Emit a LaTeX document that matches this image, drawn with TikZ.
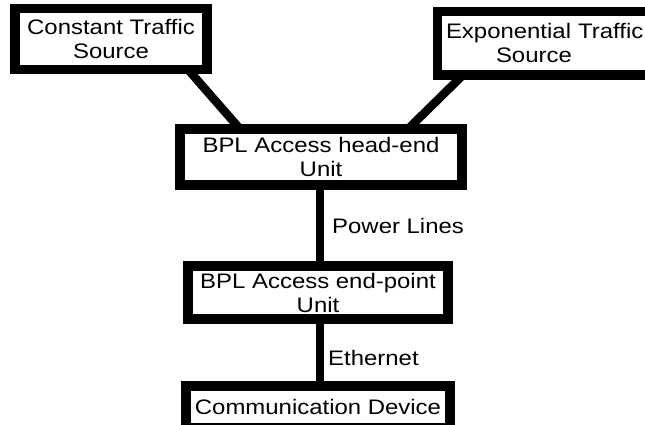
\documentclass[tikz,border=0pt]{standalone}
\usepackage{fontspec}
\setmainfont{Liberation Sans}[FakeStretch=1.14]
\usetikzlibrary{calc}
\tikzset{
  box/.style={draw, line width=9.5pt, rectangle, inner sep=0pt, outer sep=0pt,
    align=center, font=\fontsize{21}{24}\selectfont},
  wire/.style={line width=8.5pt},
  lbl/.style={anchor=base west, inner sep=0pt, font=\fontsize{21}{24}\selectfont}
}
\begin{document}
\begin{tikzpicture}[x=1pt,y=-1pt]
  \clip (0,0) rectangle (645,425);
  \fill[white] (0,0) rectangle (645,425);

  % traffic sources
  \node[box, minimum width=192pt, minimum height=61pt] (cts) at (111,39)
    {Constant Traffic\\Source};
  \node[box, minimum width=222pt, minimum height=63.5pt, align=left,
        anchor=west, text width=205pt] (ets) at (437.5,43.25)
    {\hspace*{0pt}Exponential Traffic\\\hspace*{50pt}Source};

  % BPL units
  \node[box, minimum width=282pt, minimum height=56pt] (head) at (321,157)
    {BPL Access head-end\\Unit};
  \node[box, minimum width=260pt, minimum height=53pt] (endp) at (318,292.5)
    {BPL Access end-point\\Unit};

  % end device
  \node[box, minimum width=264pt, minimum height=42pt] (dev) at (318,407)
    {Communication Device};

  % links
  \draw[wire] ([xshift=-19pt]cts.south east) -- ([xshift=60pt]head.north west);
  \draw[wire] ([xshift=25.5pt]ets.south west) -- ([xshift=-54pt]head.north east);
  \draw[wire] (head.south -| 320,0) -- (endp.north -| 320,0);
  \draw[wire] (endp.south -| 320,0) -- (dev.north -| 320,0);

  \node[lbl] (pl) at (332,233) {Power Lines};
  \node[lbl] (eth) at (328,365) {Ethernet};
\end{tikzpicture}
\end{document}
